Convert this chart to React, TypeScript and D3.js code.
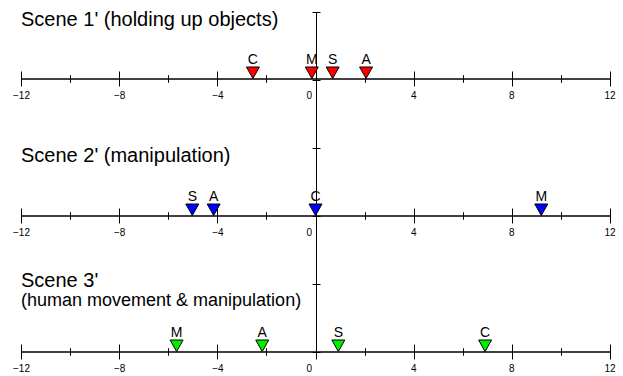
import React from "react";
import * as d3 from "d3";

const W = 623;
const H = 376;

const tickValues = [-12, -10, -8, -6, -4, -2, 0, 2, 4, 6, 8, 10, 12];
const majorTicks = [-12, -8, -4, 0, 4, 8, 12];

const sceneTitles = ["Scene 1' (holding up objects)", "Scene 2' (manipulation)", "Scene 3'"];
const sceneSubtitles = ["", "", "(human movement & manipulation)"];
const sceneColors = ["#ff0000", "#0000ff", "#00ee00"];

const scene1Labels = ["C", "M", "S", "A"];
const scene1Values = [-2.55, -0.15, 0.7, 2.06];
const scene2Labels = ["S", "A", "C", "M"];
const scene2Values = [-5.02, -4.15, 0.0, 9.2];
const scene3Labels = ["M", "A", "S", "C"];
const scene3Values = [-5.66, -2.17, 0.93, 6.91];

const sceneLabels = [scene1Labels, scene2Labels, scene3Labels];
const sceneValues = [scene1Values, scene2Values, scene3Values];

const FONT = "'Liberation Sans', Arial, Helvetica, sans-serif";

export default function App() {
  const x = d3.scaleLinear().domain([-12, 12]).range([21, 610]);
  const axisY = [79, 216, 352];
  const titleY = [26, 161.5, 286.7];
  // vertical axis with evenly spaced ticks
  const yv = d3.scaleLinear().domain([0, 5]).range([12, 352]);
  const vTicks = d3.range(0, 6);
  const x0 = Math.round(x(0)) + 0.5;

  const tri = (cx: number, baseY: number) => {
    const w = 13;
    const h = 11.5;
    const top = baseY - 0.5 - h;
    return `M${cx - w / 2},${top}L${cx + w / 2},${top}L${cx},${baseY - 0.5}Z`;
  };

  return (
    <svg
      width={W}
      height={H}
      style={{ position: "absolute", left: 0, top: 0, background: "#fff" }}
      fontFamily={FONT}
    >
      <rect width={W} height={H} fill="#fff" />
      {/* vertical axis */}
      <line x1={x0} x2={x0} y1={yv(0)} y2={yv(5)} stroke="#000" strokeWidth={1} />
      {vTicks.map((t) => (
        <line
          key={"vt" + t}
          x1={x0 - 4}
          x2={x0 + 4}
          y1={Math.round(yv(t)) + 0.5}
          y2={Math.round(yv(t)) + 0.5}
          stroke="#000"
          strokeWidth={1}
        />
      ))}
      {axisY.map((ay, i) => (
        <g key={"scene" + i}>
          <text x={21} y={titleY[i]} fontSize={20} fill="#000">
            {sceneTitles[i]}
          </text>
          {sceneSubtitles[i] && (
            <text x={21} y={titleY[i] + 19} fontSize={18} fill="#000">
              {sceneSubtitles[i]}
            </text>
          )}
          <line x1={x(-12)} x2={x(12)} y1={ay} y2={ay} stroke="#000" strokeWidth={1.3} />
          {tickValues.map((t) => {
            const major = majorTicks.includes(t);
            const px = Math.round(x(t)) + 0.5;
            return (
              <line
                key={"t" + t}
                x1={px}
                x2={px}
                y1={major ? ay - 7.5 : ay - 3.8}
                y2={major ? ay + 7.5 : ay + 3.8}
                stroke="#000"
                strokeWidth={1}
              />
            );
          })}
          {majorTicks.map((t) => (
            <text
              key={"l" + t}
              x={t === 0 ? x(0) - 3.5 : x(t) + (t < 0 ? 0.5 : 0)}
              y={ay + 19.5}
              fontSize={10}
              textAnchor={t === 0 ? "end" : "middle"}
              fill="#000"
            >
              {t < 0 ? "\u2212" + Math.abs(t) : String(t)}
            </text>
          ))}
          {sceneValues[i].map((v, j) => (
            <g key={"m" + j}>
              <path d={tri(x(v), ay)} fill={sceneColors[i]} stroke="#000" strokeWidth={1} />
              <text x={x(v)} y={ay - 15} fontSize={14} textAnchor="middle" fill="#000">
                {sceneLabels[i][j]}
              </text>
            </g>
          ))}
        </g>
      ))}
    </svg>
  );
}
